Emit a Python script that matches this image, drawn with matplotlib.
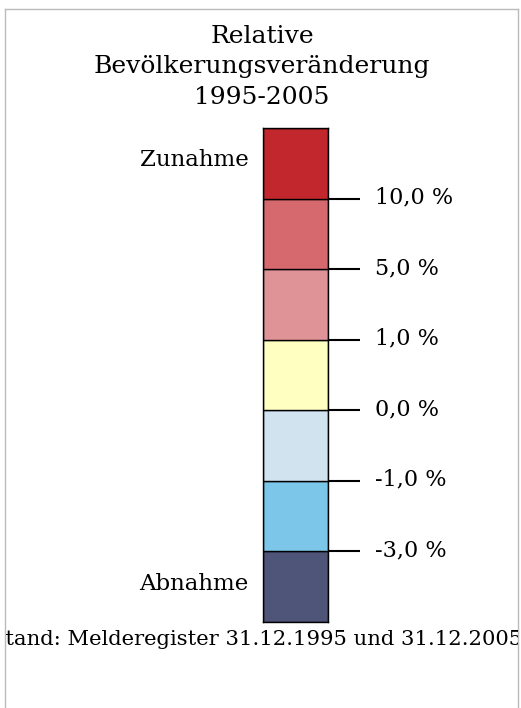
import matplotlib
matplotlib.use("Agg")
import matplotlib.pyplot as plt
from matplotlib.transforms import ScaledTranslation

plt.rcParams['font.family'] = ['DejaVu Serif']

# Klassen der Legende, von unten (Abnahme) nach oben (Zunahme)
class_colors = ["#4F5479", "#7CC6EA", "#D0E3EF", "#FFFFC1",
                "#DF9397", "#D5696D", "#C1272D"]
breaks = [-3.0, -1.0, 0.0, 1.0, 5.0, 10.0]
break_labels = ["{:.1f} %".format(b).replace(".", ",") for b in breaks]

title = "Relative\nBevölkerungsveränderung\n1995-2005"
label_top = "Zunahme"
label_bottom = "Abnahme"
source = "Stand: Melderegister 31.12.1995 und 31.12.2005"

W, H = 521, 708
fig = plt.figure(figsize=(W / 100, H / 100), dpi=100)

# grauer Rahmen (unten offen)
frame = fig.add_axes([5 / W, -0.02, 513 / W, (H - 9) / H + 0.02])
frame.set_xticks([])
frame.set_yticks([])
for s in frame.spines.values():
    s.set_color("#BBBBBB")
    s.set_linewidth(1.0)
frame.spines["bottom"].set_visible(False)
frame.patch.set_alpha(0)

fig.text(262 / W, 1 - 67 / H, title, ha="center", va="center",
         fontsize=18, linespacing=1.42)

# Legendenbalken
ax = fig.add_axes([263 / W, (H - 622) / H, 65 / W, 494 / H])
n = len(class_colors)
for i, c in enumerate(class_colors):
    ax.bar(0, 1, bottom=i, width=1, color=c, edgecolor="black", linewidth=1.0)
ax.set_xlim(-0.5, 0.5)
ax.set_ylim(0, n)
ax.set_xticks([])
ax.yaxis.tick_right()
ax.set_yticks(range(1, n), labels=break_labels)
ax.tick_params(axis="y", length=23, width=1.5, pad=11, labelsize=16)
shift = ScaledTranslation(0, -0.05, fig.dpi_scale_trans)
for lbl in ax.get_yticklabels():
    lbl.set_verticalalignment("baseline")
    lbl.set_transform(lbl.get_transform() + shift)
for s in ax.spines.values():
    s.set_linewidth(1.0)

ax.text(-0.72, 6.46, label_top, ha="right", va="baseline",
        fontsize=16.5, clip_on=False)
ax.text(-0.72, 0.45, label_bottom, ha="right", va="baseline",
        fontsize=16.5, clip_on=False)

# Quelle, an den Rahmenkanten abgeschnitten
fx0, fy0, fw, fh = frame.get_position().bounds
frame.text((-9 / W - fx0) / fw, ((H - 645) / H - fy0) / fh, source,
           ha="left", va="baseline", fontsize=15.2,
           transform=frame.transAxes, clip_on=True)

fig.savefig("out.png", dpi=100)
